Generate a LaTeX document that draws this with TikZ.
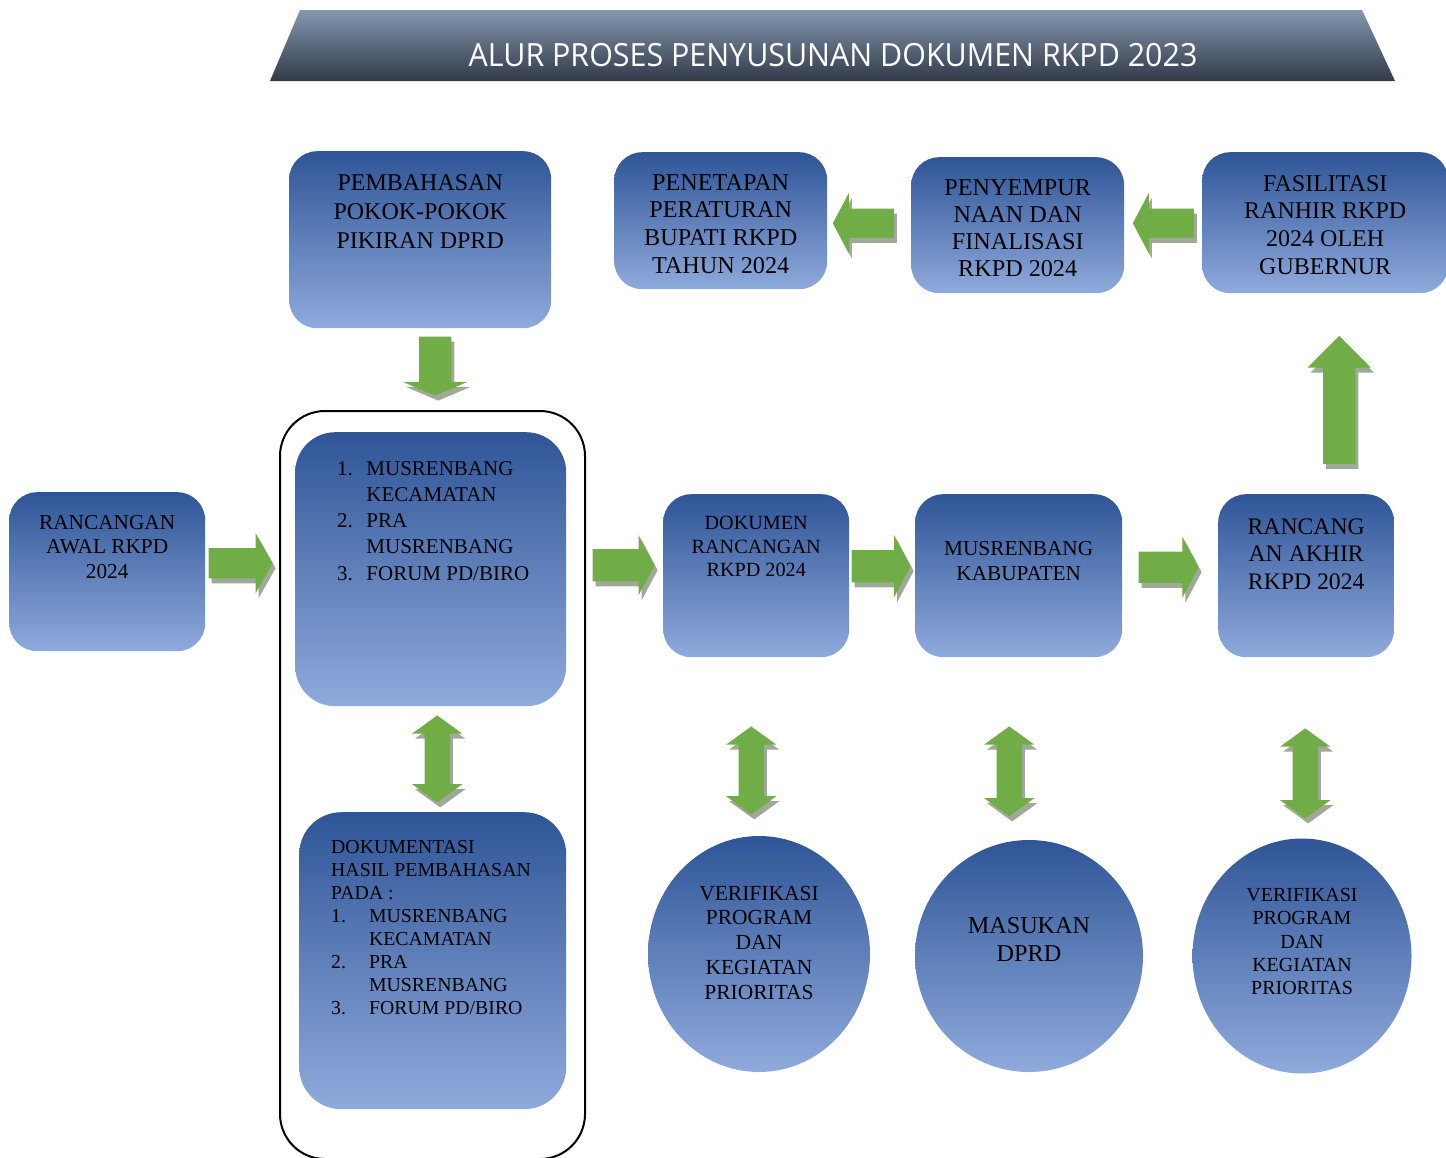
\documentclass[tikz,border=0pt]{standalone}
\usepackage{fontspec}
\setmainfont{Liberation Serif}
\newfontfamily\judulfont[FakeStretch=0.95]{Open Sans}
\usetikzlibrary{positioning,calc,shapes.geometric,shapes.arrows,shadows}
\definecolor{biruatas}{RGB}{47,85,151}
\definecolor{birubawah}{RGB}{143,170,220}
\definecolor{hijau}{RGB}{112,173,71}
\definecolor{bayang}{RGB}{160,168,152}
\definecolor{judulatas}{RGB}{132,151,176}
\definecolor{judulbawah}{RGB}{50,58,72}
\newcommand{\uk}[2]{\fontsize{#1}{#2}\selectfont}
\begin{document}
\begin{tikzpicture}[x=1pt,y=-1pt,line join=round,
	kotak/.style={rounded corners=28pt,top color=biruatas,bottom color=birubawah,inner sep=0pt,anchor=north west},
	bulat/.style={ellipse,top color=biruatas,bottom color=birubawah,inner sep=0pt},
	teks/.style={inner sep=0pt,align=center},
	bayangan/.style={drop shadow={shadow xshift=3pt,shadow yshift=-5pt,fill=bayang,opacity=1}},
	panah/.style={single arrow,fill=hijau,inner sep=0pt,single arrow head extend=15pt,single arrow tip angle=#1,anchor=tail,bayangan},
	panah/.default=124,
	panahdua/.style={double arrow,fill=hijau,inner sep=0pt,inner xsep=12.5pt,double arrow head extend=12.5pt,double arrow tip angle=108,shape border rotate=90,bayangan}]
	\useasboundingbox (0,0) rectangle (1446,1157);
	%%Judul
	\shade[top color=judulatas,bottom color=judulbawah] (300,10)--(1362,10)--(1395,81)--(270,81)--cycle;
	\node[text=white,font=\judulfont\uk{32}{32}] (judul) at (833,55) {ALUR PROSES PENYUSUNAN DOKUMEN RKPD 2023};
	%%Kotak
	\node[draw,line width=2pt,rounded corners=45pt,inner sep=0pt,anchor=north west,minimum width=305,minimum height=748] (grup) at (279,410) {};
	\node[kotak,minimum width=262,minimum height=177] (pemb) at (289,151) {};
	\node[kotak,minimum width=213,minimum height=137] (penet) at (614,152) {};
	\node[kotak,minimum width=213,minimum height=136] (penyemp) at (911,157) {};
	\node[kotak,minimum width=246,minimum height=141] (fasil) at (1202,152) {};
	\node[kotak,minimum width=196,minimum height=159] (awal) at (9,492) {};
	\node[kotak,rounded corners=40pt,minimum width=271,minimum height=274] (list) at (295,432) {};
	\node[kotak,rounded corners=42pt,minimum width=267,minimum height=297] (dokum) at (299,812) {};
	\node[kotak,minimum width=186,minimum height=163] (dok) at (663,494) {};
	\node[kotak,minimum width=207,minimum height=163] (musren) at (915,494) {};
	\node[kotak,minimum width=176,minimum height=163] (akhir) at (1218,494) {};
	\node[bulat,minimum width=222,minimum height=236] (ver1) at (759,954) {};
	\node[bulat,minimum width=228,minimum height=232] (masuk) at (1029,956) {};
	\node[bulat,minimum width=219,minimum height=235] (ver2) at (1302,956) {};
	%%Teks
	\node[teks,font=\uk{24}{29},below=23.1pt of pemb.north] (pembT) {PEMBAHASAN\\POKOK-POKOK\\PIKIRAN DPRD};
	\node[teks,font=\uk{24.2}{27.7},below=22pt of penet.north] (penetT) {PENETAPAN\\PERATURAN\\BUPATI RKPD\\TAHUN 2024};
	\node[teks,font=\uk{24.2}{27.3},below=22pt of penyemp.north] (penyempT) {PENYEMPUR\\NAAN DAN\\FINALISASI\\RKPD 2024};
	\node[teks,font=\uk{24}{27.7},below=23.1pt of fasil.north] (fasilT) {FASILITASI\\RANHIR RKPD\\2024 OLEH\\GUBERNUR};
	\node[teks,font=\uk{21.3}{24.5},below=23pt of awal.north] (awalT) {RANCANGAN\\AWAL RKPD\\2024};
	\node[teks,font=\uk{20.2}{23.5},below=22.3pt of dok.north] (dokT) {DOKUMEN\\RANCANGAN\\RKPD 2024};
	\node[teks,font=\uk{21.3}{25},below=47pt of musren.north] (musrenT) {MUSRENBANG\\KABUPATEN};
	\node[teks,font=\uk{23.7}{27.5},below=24.2pt of akhir.north] (akhirT) {RANCANG\\AN AKHIR\\RKPD 2024};
	\node[teks,font=\uk{21.5}{24.75},below=49.9pt of ver1.north] (ver1T) {VERIFIKASI\\PROGRAM\\DAN\\KEGIATAN\\PRIORITAS};
	\node[teks,font=\uk{24.2}{28},below=77pt of masuk.north] (masukT) {MASUKAN\\DPRD};
	\node[teks,font=\uk{20}{23.25},below=49.9pt of ver2.north] (ver2T) {VERIFIKASI\\PROGRAM\\DAN\\KEGIATAN\\PRIORITAS};
	\node[inner sep=0pt,font=\uk{21}{26.2},below right=24.7pt and 42pt of list.north west] (listT)
		{\begin{tabular}{@{}l@{\hspace{13.5pt}}l@{}}
			1. & MUSRENBANG\\ & KECAMATAN\\
			2. & PRA\\ & MUSRENBANG\\
			3. & FORUM PD/BIRO
		\end{tabular}};
	\node[inner sep=0pt,font=\uk{19.8}{23},below right=25.5pt and 32pt of dokum.north west] (dokumT)
		{\begin{tabular}{@{}l@{\hspace{23pt}}l@{}}
			\multicolumn{2}{@{}l@{}}{DOKUMENTASI}\\
			\multicolumn{2}{@{}l@{}}{HASIL PEMBAHASAN}\\
			\multicolumn{2}{@{}l@{}}{PADA :}\\
			1. & MUSRENBANG\\ & KECAMATAN\\
			2. & PRA\\ & MUSRENBANG\\
			3. & FORUM PD/BIRO
		\end{tabular}};
	%%Panah
	\node[panah=134,inner xsep=16pt,single arrow head extend=16pt,shape border rotate=270,minimum height=59] (p1) at ($(pemb.south)+(15,8)$) {};
	\node[panah=121,inner ysep=15pt,minimum height=64] (p2) at ($(awal.east)+(3,-8.5)$) {};
	\node[panah,inner ysep=16pt,single arrow head extend=14pt,minimum height=62] (p3) at ($(list.east)+(26,-4)$) {};
	\node[panah,inner ysep=16pt,minimum height=59] (p4) at ($(dok.east)+(2,-9.5)$) {};
	\node[panah,inner ysep=15.5pt,minimum height=60] (p5) at ($(musren.east)+(16,-8.5)$) {};
	\node[panah=90,inner xsep=16pt,single arrow head extend=15.5pt,shape border rotate=90,minimum height=128] (p6) at ($(akhir.north)+(33,-30)$) {};
	\node[panah,inner ysep=14.5pt,single arrow head extend=15.5pt,shape border rotate=180,minimum height=61] (p7) at ($(penyemp.west)+(-17,-2)$) {};
	\node[panah,inner ysep=14.5pt,single arrow head extend=15.5pt,shape border rotate=180,minimum height=61] (p8) at ($(fasil.west)+(-8,0.5)$) {};
	\node[panahdua,minimum height=87] (d1) at ($(list.south)+(6.5,52.5)$) {};
	\node[panahdua,minimum height=88] (d2) at ($(dok.south)+(-5,113)$) {};
	\node[panahdua,minimum height=90] (d3) at ($(musren.south)+(-9.5,114)$) {};
	\node[panahdua,minimum height=90] (d4) at ($(akhir.south)+(-1,116)$) {};
\end{tikzpicture}
\end{document}
